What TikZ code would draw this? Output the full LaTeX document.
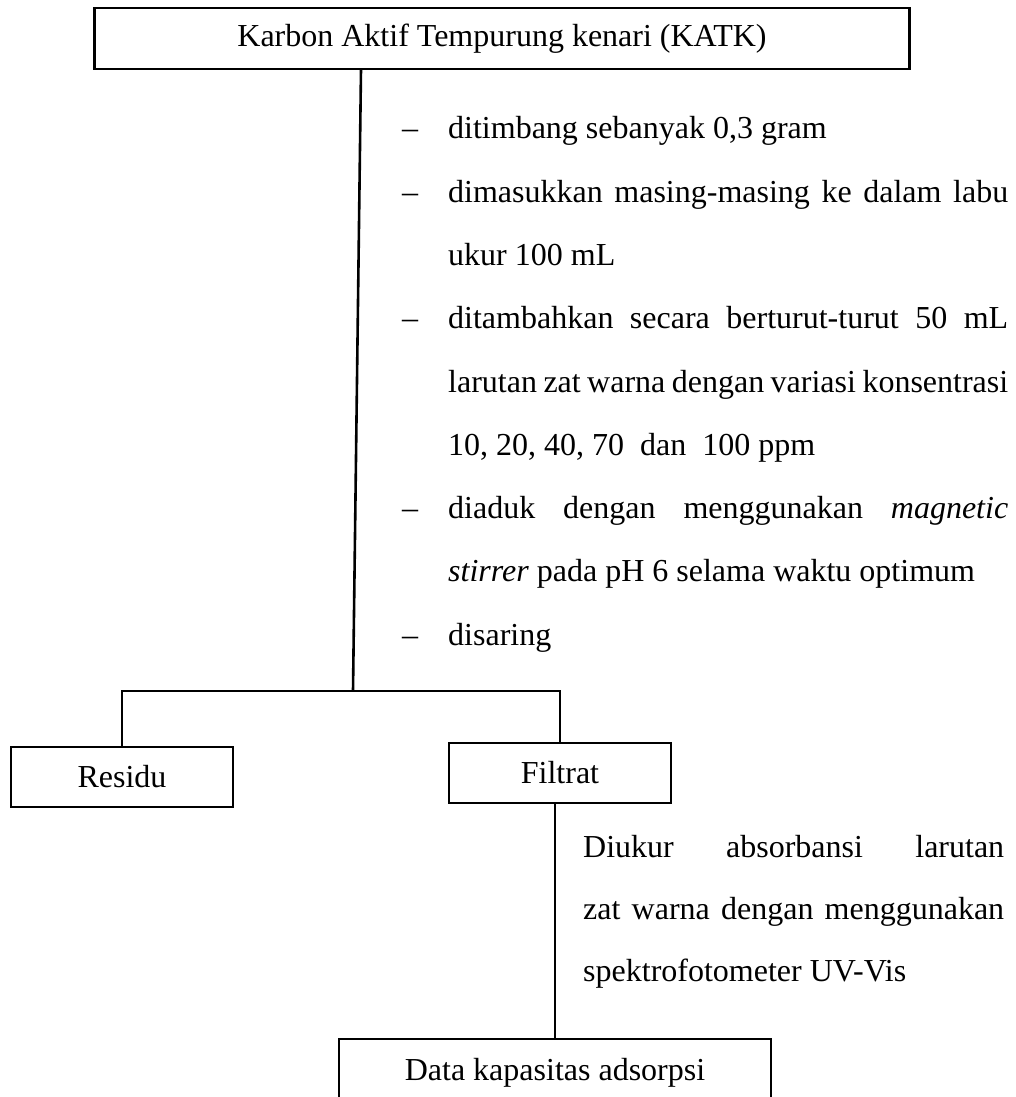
\documentclass[tikz,border=0pt]{standalone}
\usepackage{fontspec}
\setmainfont{Liberation Serif}
\begin{document}
\begin{tikzpicture}[x=1pt,y=-1pt,
  box/.style={draw,line width=2.6pt,inner sep=0pt,align=center},
  conn/.style={line width=2.6pt},
  txt/.style={anchor=base west,inner sep=0pt},
  every node/.style={font=\fontsize{32}{40}\selectfont}]
\useasboundingbox (0,0) rectangle (1016,1097);
\begin{scope}
\clip (0,0) rectangle (1016,1097);
% boxes
\node[box,minimum width=815,minimum height=61] (katk) at (502,38.5) {Karbon Aktif Tempurung kenari (KATK)};
\node[box,minimum width=222,minimum height=60] (residu) at (122,777) {Residu};
\node[box,minimum width=222,minimum height=60] (filtrat) at (560,773) {Filtrat};
\node[box,minimum width=432,minimum height=90] (data) at (555,1084) {};
\node[inner sep=0pt,anchor=base] (datatxt) at (555,1080) {Data kapasitas adsorpsi};
% connectors
\coordinate (top) at (361,69);
\coordinate (split) at (353,691);
\coordinate (bl) at (122,691);
\coordinate (br) at (560,691);
\coordinate (fd) at (555,0);
\draw[conn] (top) -- (split);
\draw[conn,line cap=rect] (bl) -- (br);
\draw[conn] (bl) -- (residu.north -| bl);
\draw[conn] (br) -- (filtrat.north -| br);
\draw[conn] (filtrat.south -| fd) -- (data.north -| fd);
\end{scope}
% steps after KATK
\foreach \yy/\nm in {139/d1,202.25/d2,328.75/d3,518.5/d4,645/d5}
  \node[txt] (\nm) at (402,\yy) {–};
\node[txt] (s1) at (448,139) {ditimbang sebanyak 0,3 gram};
\node[txt] (s2) at (448,202.25) {\makebox[560pt][s]{dimasukkan masing-masing ke dalam labu}};
\node[txt] (s2b) at (448,265.5) {ukur 100 mL};
\node[txt] (s3) at (448,328.75) {\makebox[560pt][s]{ditambahkan secara berturut-turut 50 mL}};
\node[txt] (s3b) at (448,392) {\makebox[560pt][s]{larutan zat warna dengan variasi konsentrasi}};
\node[txt] (s3c) at (448,455.25) {10, 20, 40, 70\ \ dan\ \ 100 ppm};
\node[txt] (s4) at (448,518.5) {\makebox[560pt][s]{diaduk dengan menggunakan \textit{magnetic}}};
\node[txt] (s4b) at (448,581.75) {\textit{stirrer} pada pH 6 selama waktu optimum};
\node[txt] (s5) at (448,645) {disaring};
% step after Filtrat
\node[txt] (f1) at (583,857) {\makebox[421pt][s]{Diukur absorbansi larutan}};
\node[txt] (f2) at (583,919) {\makebox[421pt][s]{zat warna dengan menggunakan}};
\node[txt] (f3) at (583,981) {spektrofotometer UV-Vis};
\end{tikzpicture}
\end{document}
